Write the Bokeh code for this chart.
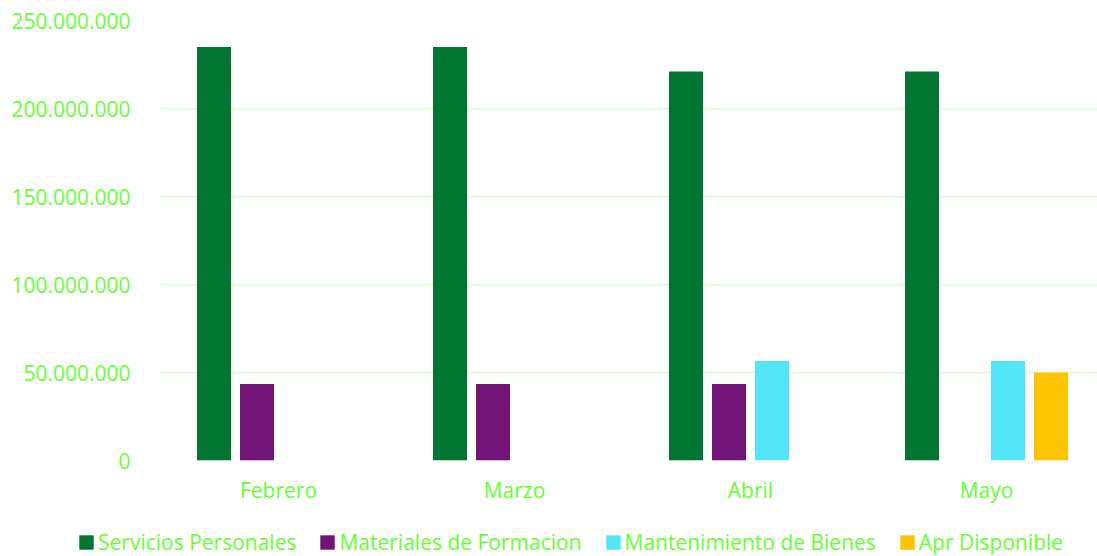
from bokeh.plotting import figure
from bokeh.layouts import column, row
from bokeh.models import (ColumnDataSource, Range1d, FixedTicker, CustomJSTickFormatter,
                          Legend, LegendItem)
from bokeh.embed import file_html
from bokeh.resources import INLINE

months = ["Febrero", "Marzo", "Abril", "Mayo"]
servicios = [235_000_000, 235_000_000, 221_000_000, 221_000_000]
materiales = [43_500_000, 43_500_000, 43_500_000, 0]
mantenimiento = [0, 0, 56_500_000, 56_500_000]
apr_disponible = [0, 0, 0, 50_000_000]
series_names = ["Servicios Personales", "Materiales de Formacion",
                "Mantenimiento de Bienes", "Apr Disponible"]
colors = ["#007632", "#711475", "#52E5F8", "#FDC400"]
y_ticks = [0, 50_000_000, 100_000_000, 150_000_000, 200_000_000, 250_000_000]

TXT = "#66FF33"
GRID = "#DAFBCB"
FONT = "Open Sans"

p = figure(width=1097, height=516, output_backend="svg", toolbar_location=None,
           x_range=Range1d(0, 937 / 236), y_range=Range1d(0, 250_000_000),
           min_border_left=160, min_border_right=0, min_border_top=20,
           min_border_bottom=56)
p.outline_line_color = None

centers = [i + 0.5 for i in range(len(months))]
offsets = [-64.5 / 236, -21.5 / 236, 21.5 / 236, 64.5 / 236]
for vals, col, off in zip([servicios, materiales, mantenimiento, apr_disponible],
                          colors, offsets):
    src = ColumnDataSource(dict(x=[c + off for c in centers], top=vals))
    p.vbar(x="x", top="top", width=34 / 236, source=src, fill_color=col,
           line_color=None)

# axes
p.xaxis.ticker = FixedTicker(ticks=centers)
p.xaxis.formatter = CustomJSTickFormatter(args=dict(labels=months),
                                          code="return labels[Math.round(tick - 0.5)];")
p.yaxis.ticker = FixedTicker(ticks=y_ticks)
p.yaxis.formatter = CustomJSTickFormatter(
    code="return Math.round(tick).toString().replace(/\\B(?=(\\d{3})+(?!\\d))/g, '.');")
for ax in (p.xaxis[0], p.yaxis[0]):
    ax.axis_line_color = None
    ax.major_tick_line_color = None
    ax.minor_tick_line_color = None
    ax.major_label_text_color = TXT
    ax.major_label_text_font = FONT
    ax.major_label_text_font_size = "21px"
p.yaxis.major_label_standoff = 24
p.xaxis.major_label_standoff = 9

p.xgrid.grid_line_color = None
p.ygrid.ticker = FixedTicker(ticks=y_ticks)
p.ygrid.grid_line_color = GRID
p.ygrid.grid_line_width = 1.5

# legend strip below the chart (own small figure; swatch glyphs sit outside its view)
lg = figure(width=1097, height=40, output_backend="svg", toolbar_location=None,
            x_range=Range1d(0, 1), y_range=Range1d(0, 1),
            x_axis_location=None, y_axis_location=None,
            min_border_left=0, min_border_right=0, min_border_top=0, min_border_bottom=0)
lg.outline_line_color = None
lg.grid.grid_line_color = None
items = []
for name, col in zip(series_names, colors):
    r = lg.vbar(x=[-5], top=[-5], width=0.1, fill_color=col, line_color=None)
    items.append(LegendItem(label=name, renderers=[r]))
legend = Legend(items=items, orientation="horizontal", location=(77, 0),
                label_text_color=TXT, label_text_font=FONT, label_text_font_size="21px",
                glyph_width=18, glyph_height=18, label_standoff=3, spacing=22,
                border_line_color=None, background_fill_alpha=0, padding=0,
                margin=0)
lg.add_layout(legend, "center")

layout = column(p, row(lg, spacing=0), spacing=0)
open("out.html", "w").write(file_html(layout, INLINE))
